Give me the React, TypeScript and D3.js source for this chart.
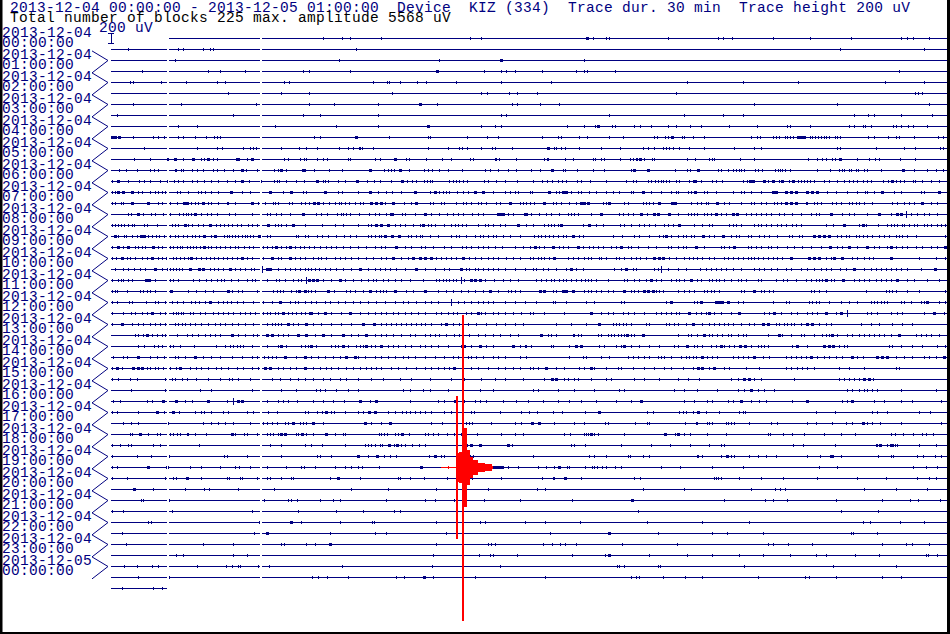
import React from "react";
import * as d3 from "d3";

// header texts
const headerLine = "2013-12-04 00:00:00 - 2013-12-05 01:00:00  Device  KIZ (334)  Trace dur. 30 min  Trace height 200 uV";
const summaryLine = "Total number of blocks 225 max. amplitude 5568 uV";
const scaleLabel = "200 uV";

// hour labels (one per two traces)
const hourDates = [
    "2013-12-04", "2013-12-04", "2013-12-04", "2013-12-04", "2013-12-04", "2013-12-04",
    "2013-12-04", "2013-12-04", "2013-12-04", "2013-12-04", "2013-12-04", "2013-12-04",
    "2013-12-04", "2013-12-04", "2013-12-04", "2013-12-04", "2013-12-04", "2013-12-04",
    "2013-12-04", "2013-12-04", "2013-12-04", "2013-12-04", "2013-12-04", "2013-12-04",
    "2013-12-05",
];
const hourTimes = [
    "00:00:00", "01:00:00", "02:00:00", "03:00:00", "04:00:00", "05:00:00",
    "06:00:00", "07:00:00", "08:00:00", "09:00:00", "10:00:00", "11:00:00",
    "12:00:00", "13:00:00", "14:00:00", "15:00:00", "16:00:00", "17:00:00",
    "18:00:00", "19:00:00", "20:00:00", "21:00:00", "22:00:00", "23:00:00",
    "00:00:00",
];

const traceMinutes = 30;
const traceHeightUV = 200;
const maxAmplitudeUV = 5568;

// data blocks inside each 30 min trace (minutes)
const blockSpans = [[0, 2.0], [2.08, 5.36], [5.43, 30.05]];

// picked up pulses per trace, minutes from trace start; b = short burst, s = larger spike
const traceTicks = [
    "7.6 8.3 8.6 9.7 12.9 13.3 17.1b 17.3 17.8 17.9 20.0 21.8 22.0 22.3 23.8 25.1 26.6 28.4 28.6 28.8 29.4",
    "0.6 2.4 2.6 3.3 3.55 3.65 8.8 26.2 29.2",
    "2.3 8.2 11.8 14.0b 17.0",
    "1.1 3.5 3.9 4.8 6.9 7.1 8.6 11.7b 13.4 14.0 14.2 14.5 15.5 16.7 17.0 17.1 18.1 28.3",
    "0.7 0.78 1.8 2.7 3.8 4.1 6.2 6.4 9.4 9.9 10.0 10.4 11.0 11.3 12.4 14.0 15.8 20.7 22.7 24.7 27.8 29.2",
    "4.2 6.1 7.1 10.1 13.3 13.5 14.3 14.6 15.3 20.3 28.9 29.0 29.15",
    "0.8 2.5 5.2 7.1 8.0 9.6 11.1b 11.7 14.4 14.6 15.4 16.1 23.1 26.1 29.4",
    "0.2 4.4 6.9 7.5 9.6 14.0 14.2 17.9 20.6 22.0 22.7 26.7 27.2 27.4 28.4 29.5",
    "2.4 3.1 5.9 8.1 9.6 11.4b 13.3 13.8 14.0 16.4 17.0 17.4 17.5b 18.0 18.1 18.8 19.0 19.4 20.0 20.3 20.8 21.2 22.2 23.2 24.3 24.4 25.1 26.5 26.7 27.0 27.1 27.3 28.1 28.2 28.4 28.65 28.8 29.3",
    "0.05b 0.15b 0.3b 0.8 1.5 1.7 1.9 2.4 2.6 3.0 3.4 3.7 3.8 3.9 7.3 7.5 8.8b 10.0 11.4 11.45 12.8 13.5 13.9 15.5 16.05 16.15 16.8 17.1 17.9 18.4 19.5 19.6 19.9 20.0 20.15b 20.5 20.6 20.9 21.3 23.0 23.2 23.3 23.8 23.9 24.0 24.2 24.3 24.4 24.5 24.7b 24.8b 24.9b 25.1 25.2 25.3 25.4 25.5 25.6 25.7 25.8 26.0 26.1 26.2 27.2 27.4 27.9 28.2 28.3 28.85 29.7 29.9",
    "1.2 3.1 3.8 4.0 4.75 5.0 5.1 5.2 6.1 6.75 7.0 7.4 8.2 8.5 8.7 8.9 8.95 9.0 9.4 11.4 12.1 12.5 12.6 12.8 13.3 13.7 13.8 14.4 15.7b 15.9 16.0 16.15 16.3 16.8 17.6 18.3 19.1 19.3 19.5 19.85 19.95 20.05 20.2 20.4 20.75 21.3 22.4 23.1 23.35 26.1 26.2 27.5 28.5 28.9 29.8 29.9",
    "0.84 1.4 2.0 2.05 2.3b 2.6 2.95b 3.25 3.35 3.45 3.5b 3.65 3.8 4.5 4.55b 4.9 5.05b 6.2 6.35 6.8 6.95 7.0 7.4 7.6 7.75 8.5 8.6 9.5 9.65 10.2b 10.6 10.7 11.3 11.9 12.2 12.9 13.0 13.8 13.85 13.95 14.55 15.55 15.65 15.7 16.3 16.6 17.3 17.4 17.6 17.7 18.3 18.65 18.75 18.85 18.9 19.0b 19.15 19.45 19.5 20.7 21.0 21.5 21.6 21.65 22.6 23.1 25.05 25.35 25.55 25.7 25.9 26.0 26.2b 26.8 27.25 27.45 27.6 28.35 28.9",
    "0.3 0.55 0.95 1.4 1.55 1.7 2.3 2.35 2.5 2.6 2.9 3.1 3.3 3.65 3.8 4.05 4.4 4.7b 4.85 5.25 5.85 6.0 6.1b 6.3 6.85 6.95b 7.3 7.85 8.3 9.3b 9.8 9.95 10.05 10.15 10.4b 10.7 11.25 11.4 11.55 11.8 12.1 12.6 13.45 13.6 13.9 14.25 14.55 15.1 15.4 15.85b 16.25 16.3 16.75 17.3 17.7 18.7 18.8b 19.3b 20.25 20.7 20.8 21.1b 21.8 21.9 22.15 22.35 22.45 22.55 22.65 22.75 23.15 23.25 23.4 23.85 23.95 24.05 24.1 24.2 24.4 25.35 25.85 26.15 26.25 26.35 26.5 26.6 26.75 26.85 27.05 27.15 27.65 28.45b 28.85 29.3 29.65 29.9",
    "0.05 0.25b 0.3 0.6 1.0 1.2 1.4 1.75 2.0 2.25 2.4 2.6 2.9 3.1 3.35 3.6 3.85 4.15 4.45 4.7b 4.95 5.4 5.85 5.95 6.05 6.3 6.65 6.95 7.4b 7.6 7.7 7.8 8.15 8.4 8.85b 9.2 9.45 9.65 10.05 10.45b 10.65 10.8 10.95 11.25 11.35 11.45 11.55 12.15 12.3 12.4 12.5 12.65 12.8 13.4 13.55 13.85 14.15 14.6 15.15 15.5 15.65 15.85 16.05 16.2 16.35 16.75 16.9 17.2 17.8 18.5 18.75 18.85 19.3 19.4 19.55 19.65 19.75 19.85 19.95 20.05 20.3 20.4 20.75 20.9 21.0b 21.2 21.6 21.75 21.95 22.7 22.85 22.95b 23.05b 23.45b 23.6 23.8b 24.0 24.1b 24.35 24.5b 24.7 24.8 24.9 25.0 25.1 25.25 25.6 25.8 26.1 26.35 26.5 26.65 26.8 27.0 27.15 27.3 27.75 27.9 28.05b 28.2 28.35 28.5 28.8 28.9 29.15 29.45 29.75",
    "0.05 0.14 0.26b 0.44b 0.74b 0.98 1.1 1.4 1.58 1.7 1.82 1.94 2.36 2.48 2.78 3.13 3.25 3.37 3.61 3.85 4.3b 4.69 5.01 5.71b 6.18 6.48b 6.9 7.02 7.68b 8.16 8.3 8.87 9.29b 9.59 9.89 10.09 10.43 10.91b 11.45 11.63b 11.8 11.92 12.04 12.16 12.44 12.64 12.82 13.08b 13.36b 13.72 14.14 14.32 14.52 14.62 15.04 15.12 15.72b 15.99 16.11 16.23b 16.35b 16.53 16.77 16.89 17.19 17.43 17.79 18.02 18.26 18.68 18.74 19.1b 19.4 19.76 20.12 20.3 20.38 20.72 20.84 20.98b 21.31 21.43 21.73 22.33 22.63 22.75 22.99 23.35 23.77b 23.89b 24.24b 24.42b 24.6b 25.02b 25.2b 25.38b 25.74 26.04 26.46 26.82 27.08 27.17 27.41 27.71b 28.13 28.37 29.09 29.21 29.75b",
    "0.05 0.14 0.36 0.44 0.74b 0.8 1.34b 1.7 1.82 2.12 2.36 2.62b 2.72b 2.87 3.01 3.13 3.31b 3.49 3.59 3.85 4.15 4.21 4.45 5.07b 5.29 5.55 5.83 5.91 6.0 6.39 6.51 6.82 6.96 7.1 7.3b 7.44b 7.62 7.82 8.04 8.19 8.28 8.4 8.54 8.76 8.93 9.05 9.35b 9.53b 9.69b 9.86 10.13b 10.53 10.79 10.97b 11.45 11.57 11.84 11.98 12.38 12.64 12.76 12.94 13.18 13.3 13.46 13.84 13.96 14.32b 14.68 14.8 14.92 15.04 15.21 15.57b 15.87 15.99 16.17 16.47 16.71 16.89b 17.01b 17.13b 17.67 17.79 17.91b 18.44 18.56 19.1 19.22 19.34 19.46 19.7b 20.15b 20.26b 20.84 21.07 21.19 21.37 21.46 21.79b 22.03 22.21 22.63 22.99 23.11 23.35 23.53 23.83 23.94 24.06 24.24b 24.42b 24.6b 24.96 25.02 25.26 25.38 25.5 25.92 26.04 26.22 26.52 26.64 26.76 26.88 27.05 27.35 28.07 28.25 28.49 28.67 28.85 29.15b 29.45 29.69",
    "0.62 0.72 0.96b 1.16 1.42 1.58 1.88 2.12 2.44 2.6 2.68 2.78 2.87 3.01b 3.23 3.46 3.59 3.82 4.23 4.45 5.07 5.61 5.73 5.94 6.09 6.42 6.9b 7.38 7.56 7.77 8.13 8.25 8.34 8.46 8.58 8.91 9.26 9.47 9.62 9.89 10.01 10.09b 10.47 10.57 10.91 11.27b 11.51 11.8 12.08 12.28 12.46 12.64 12.98 13.18 13.38 13.9b 14.0b 14.08b 14.26 14.44 14.83 14.9b 15.09 15.39 15.63 15.81 16.11 16.41 16.53 16.65 16.77 17.25 17.61b 18.26 18.38 18.56 18.74 19.04b 19.24 19.52b 19.66b 20.06b 20.36 20.72 20.84 20.96 21.07 21.31 21.43 21.55 21.73b 21.91 22.09 22.33b 22.48b 22.81 22.99 23.17 23.35 23.53 23.71 24.0 24.18 24.48 24.78 25.14 25.32 25.44 25.86b 26.28 26.52 26.7 27.17 27.59b 28.01 28.25b 28.38b 28.55s 28.73 28.97 29.21 29.39 29.69",
    "0.05 0.14 0.24 0.36 0.48 0.62 0.74 0.84 1.2 1.28 1.64 2.18 2.3 2.42 2.66b 2.78 2.92 3.13 3.31 3.55b 3.77 3.91 4.07 4.21 4.33 4.51 4.66 4.93 5.08 5.23 5.65b 5.88 6.0 6.12 6.3 6.54b 6.98 7.58 8.04 8.34 8.87 9.23 9.35 9.53b 9.69b 9.95b 10.19 10.37 10.55 10.85 11.09 11.21b 11.39 11.51 11.63 11.98 12.22 12.37 12.46 12.61 12.76 13.2 13.42 13.54 13.72 13.96 14.14 14.62b 14.92 15.15 15.57 15.69 15.81 15.93 16.05 16.17b 16.95 17.19b 17.43 17.67 18.3 18.44 18.68 18.98 19.16 19.34 19.54 19.88 20.0 20.18 20.42b 20.96 21.25 21.49 21.61 22.21 22.33 22.45 22.63 23.11 23.23 23.35 23.53 23.71 23.94 24.06 24.24 24.48 24.6 24.78 25.68 25.95 26.34b 26.88 27.0b 27.11 27.56 27.89 28.01 28.13 28.25 28.43 28.49 28.67 28.85 28.97 29.21 29.33 29.47 29.66 29.81 29.95",
    "0.14b 0.26 0.48 0.54 0.74 0.92 1.08b 1.2b 1.34 1.46 1.6 1.72 1.91 2.12 2.3 2.42 2.6 2.72 2.9 3.01 3.17 3.34b 3.59 3.73b 4.05 4.15 4.23 4.33 4.45 4.57 4.69 4.81 4.9 5.01 5.11 5.31b 5.59 5.71 6.63 6.72 6.98 7.08 7.4 7.58 7.8 8.1 8.36 8.58 8.82 9.23 9.35 9.5 9.62 9.71 9.83b 10.09b 10.35b 10.67 10.79 10.97 11.09 11.17 11.45 11.75 12.22 12.4 12.52 12.76 13.06 13.24 13.36 13.54 13.72 13.84 14.08 14.32 14.68 15.21 15.33 15.45 15.6 15.75 15.87 16.05 16.23 16.35 16.59b 16.83 16.95 18.02 18.36 18.8 18.98 19.34 19.7 19.82 19.94b 20.12 20.36 20.54 20.66 20.84 20.96 21.28b 21.49 21.67 22.0b 22.27 22.45 22.57 22.87 22.99 23.29 23.47 23.65 23.94 24.36 24.48 24.72 24.84 25.26b 25.44b 25.62b 25.8b 26.1 26.22 26.4 26.52 26.76 26.88 27.0 27.17 27.35 27.59 27.77 27.95 28.19 28.31 28.43 28.61 28.91 29.98",
    "0.05 0.26b 0.44 0.62b 0.86 0.98 1.1 1.22 1.52b 1.7 1.82 2.12 2.24 2.36 2.48 2.56 2.72 2.84 2.96 3.07 3.19 3.35b 3.49 3.61 3.77 3.91 4.09 4.27 4.45 4.57 4.78 4.95 5.11 5.47 5.59 5.77 5.94b 6.12 6.27 6.42b 6.6 6.78 6.94 7.12 7.3 7.5 7.74 7.92 8.1 8.34 8.58 8.87 9.17 9.47 9.71 9.83 10.25b 10.55 10.79 11.12 11.29 11.57 11.98 12.22 12.61 12.76 12.94 13.18 13.36 13.54 13.78 14.04 14.5 14.8 15.04 15.24b 15.39 15.57 15.87b 16.11 16.23 16.41 16.77b 16.95 17.19 17.31 17.49 17.67 17.96 18.14 18.32b 18.56 18.68 18.92 19.28 19.58 20.0 20.12 20.38 20.54 20.66 21.01b 21.31 21.91 22.03 22.21 22.39b 22.87 22.99 23.17 23.35 23.59 23.71 23.94 24.3 24.54 24.84 25.14 25.5 25.83b 26.1 26.28 26.52b 26.82 27.17b 27.41 27.59 27.89 28.03b 28.19 28.43 28.61 28.91 29.15 29.45 29.69 29.95b",
    "0.05 0.17 0.38b 0.56 0.68 0.86 1.1 1.28 1.46b 1.7 1.84 1.96 2.24 2.32 2.48 2.63 2.78 2.87b 3.07 3.25 3.4 3.55 3.71 3.85 4.03 4.15 4.33 4.51 4.69b 4.87 5.05 5.47 5.77b 6.0 6.12 6.42b 6.6 6.78 6.96 7.26 7.44 7.56 7.74 8.04 8.22 8.4 8.64 8.87 9.17 9.41 9.71 9.89 10.13b 10.43 10.67 10.85b 11.09b 11.29b 11.48b 11.69 11.86 12.04 12.22 12.4 12.64b 12.88 13.06 13.28 13.54 13.72 13.9 14.2 14.44 14.68 15.04 15.15 15.33 15.45 15.57 15.75 15.93b 16.41 16.59 16.77 17.01 17.13 17.25 17.55 17.61 17.79 18.14 18.26 18.44 18.68 18.86 19.02 19.22 19.52b 19.7b 19.85b 20.06 20.3 20.6 20.78 20.9 21.07 21.25 21.49 21.67 22.03 22.15 22.33 22.51 22.69 22.87 22.99 23.11 23.23 23.41 23.59 23.77 23.94 24.12 24.42b 25.08b 25.26b 25.44b 25.68 25.86 25.98b 26.28b 26.64 26.82 27.05 27.23 27.39 28.01b 29.03 29.65 29.95",
    "0.14 0.44 0.62 0.84 1.04 1.22 1.58b 1.82 2.0 2.12 2.24 2.33 2.44 2.56 2.84b 3.16b 3.31b 3.55 3.71 3.85 4.03 4.27b 4.45 4.63 4.81 5.02 5.14 5.43s 5.59b 5.71b 6.0 6.24 6.42 6.6 6.78 6.96 7.08 7.2 7.32 7.46 7.68 7.86 8.1 8.34 8.64 8.93b 9.23 9.47 9.65 9.83 10.01 10.25 10.55 10.97b 11.27 11.63 11.98 12.16 12.56b 12.74 12.88 13.06 13.18 13.36 13.54 13.72 13.9 14.14 14.5 14.86 15.15 15.27 15.51 15.69 15.99 16.35 16.53b 16.71 16.95 18.08 18.32 18.5b 18.74 18.86 19.52 19.64 19.76s 20.0 20.36 20.66 21.17 21.37 21.55 21.73 21.91 22.09 22.33 22.63 23.11 23.29 23.47 23.71 23.94 24.24 24.42 24.78 25.02 25.26 25.5 25.68 25.86 26.19 26.4 26.7b 27.05 27.29 27.47 27.65 27.83 28.01 28.19 28.37 28.61 29.09 29.6b",
    "0.05 0.26 0.35 0.44 0.6 0.74 1.24b 1.36b 1.58 2.12 2.24 2.42 2.96 3.17 3.43 3.59 3.82 3.95 4.07 4.31 4.57 4.87 5.05 5.17 5.59 5.94 6.03 6.24 6.54 6.72 6.84 7.0s 7.1b 7.26b 7.4b 7.62 7.92 8.22b 8.4 8.7 8.99 9.23 9.41 9.53 9.77 9.95 10.19 10.43 10.73 11.21 11.69 11.8 11.92 12.04 12.16 12.28 12.4 12.56s 12.7 12.92b 13.08b 13.24b 13.42 13.76 14.08 14.32 14.62 15.27 15.45 15.63 15.81 15.93 16.11 16.23 16.35 16.53 16.71 16.89 17.03 17.15 17.25 17.43 17.85 18.42 18.54 18.8 18.98 19.22 19.4b 19.58 19.76 20.12 20.3 20.42 20.6 20.84b 21.05 21.19 21.49 21.61 21.73 21.85 22.03 22.27 22.51 22.63 22.81 23.23 23.35 23.89 24.16 24.3 24.6 24.96 25.14 25.32 25.44 25.56 25.68b 25.86 25.98 26.31b 26.7 26.88 27.05 27.23 27.47 27.65 27.83 28.01 28.25b 28.61 28.85 29.33 29.75",
    "0.05 0.14 0.23 0.56 1.04 1.16 1.28 1.4 1.58 2.15b 2.75 3.07 3.37 3.67 4.21b 4.33 4.57 4.69 5.23 5.83 5.95 6.06 6.18 6.48 6.66 6.75b 6.96b 7.08 7.2 7.34 7.8b 8.01 8.46 8.58 8.76 9.05 9.29b 9.53 9.65 9.77 9.89 10.19b 10.61 10.85 11.27b 11.75 12.04 12.28 12.58 12.82 13.06 13.36 13.62b 13.9 14.26 14.38 14.5 14.68 15.42b 15.54b 15.87 15.99 16.23b 16.35b 16.59b 17.01 17.13 17.25 17.43 17.61 17.85 18.02 18.44b 18.68 18.8 18.92 19.16b 19.3b 19.46b 19.58 19.7 19.82 20.36 20.6 20.78 20.96 21.31 21.43 21.55 21.67 21.85 22.63 22.75 23.11b 23.35 23.47 23.65 23.77 25.14 25.26 25.44 25.68 27.11 27.83 27.95 28.07 28.19 28.61 29.03 29.98",
    "0.05 0.2 0.65 0.74 1.24 1.58 1.7 1.94 2.18 2.36 2.6 2.87 3.01 3.16 3.37 3.55b 3.85 4.03 4.15 4.31 4.54 4.75 5.11 5.47 5.77 6.06b 6.42 6.6 6.72 6.96 7.2 7.38 7.68 7.86 8.16 8.4 8.7 8.93 9.23 9.53 9.83 10.19 10.49 10.67 10.97 11.27 11.51 11.75 12.2s 12.46 12.7 12.94 13.18 13.36 13.54 13.72 14.14 14.5 14.86 15.27 15.87 15.95 16.35 17.07 17.37 18.32 18.44 19.94 20.12b 20.96 21.07 21.19b 21.73b 21.85b 21.97b 22.17b 22.51 22.69 23.77 24.24 24.36 25.08 25.2 25.32 25.44 25.8 26.22 26.52 26.82 27.29 27.41 27.53 27.65 27.77 27.89 28.37 28.49 28.73 29.09 29.21 29.33b 29.75 29.98",
    "0.05 0.44 0.72 0.86 1.1 1.28 1.46b 1.76 1.94 2.24 2.32 2.42 2.51 2.6 2.84 2.96 3.19 3.37 3.67 3.85 4.03 4.21 4.39 4.63 4.81 4.99 5.17 5.47 5.59 5.71 5.88 6.0 6.18b 6.36 6.51 6.66 6.82 6.96 7.1 7.2b 7.44 7.68b 7.92 8.28 8.58b 8.93 9.23 9.47 9.71 9.89 10.13 10.31 10.55 10.79 11.03 11.27 11.69 11.86 12.1 12.28 12.44 12.76 12.94 13.18b 13.3 13.42 13.72 13.9 14.14 14.44 14.74 15.04 15.15 15.57 16.29 17.25b 17.61 17.85 18.02 18.38 18.56 18.8 19.16 19.58 19.76 19.94 20.12 20.3 20.42 20.78b 21.01 21.19 21.37 21.49b 21.67 21.91 22.27 22.57b 23.47 23.65 23.83b 24.06 24.42 24.66 25.02 25.2 25.38 25.68b 26.04 26.22b 26.46s 27.17 27.29 27.53 28.01 28.25 28.43 29.21 29.57b 29.92",
    "0.05 0.38b 0.74 0.98 1.16 1.4 1.58 1.76 1.94 2.3 2.42 2.54 2.66 2.84 3.01 3.25 3.49 3.73 3.91 4.09 4.33 4.57 4.81 5.11 5.61 5.77 5.88 6.0 6.12 6.36b 6.54 6.72 7.02b 7.26 7.56 7.92 8.28 8.64 9.05b 9.45b 9.71 9.89 10.07 10.25 10.43 10.61 10.79 10.97 11.15 11.27 11.51 11.86 12.04b 12.28 12.52 12.82 13.12 13.48 13.84 14.14 14.5 14.8 15.99 16.53 17.07 17.55b 18.02 18.14 18.26 18.38 18.5 18.68 19.22 19.34 19.94 20.06 20.24 20.36 20.66 20.9b 21.25 21.49 21.67 21.85 22.03 22.15 22.33 22.63 22.93 23.11 23.44b 23.61b 23.89 24.0 24.18 24.3 24.42 24.54 24.78 25.02b 25.2b 25.44 25.68 25.86 26.94 27.29 27.59 28.07 28.43 28.79",
    "0.86 0.98 1.16 1.28b 1.46 1.64 1.82 1.94 2.36 2.72 2.9 3.13 3.37 3.55 3.73 3.91 4.33b 4.57 4.81 5.11 5.23 5.62b 5.77b 6.0 6.18 6.36 6.72b 7.02b 7.32 7.62b 7.92 8.34b 8.64 8.87 9.17b 9.47 9.71 9.89 10.13 10.43 10.73 10.91 11.27 11.45 11.63 11.8 12.04 12.34 12.52 12.88 13.18 13.42 13.72 13.96 14.32 14.62 15.45b 15.69 15.81 15.99 16.59 16.65 16.77 16.89 17.49 17.61 17.85 17.96 18.08 18.2 18.32 18.44 18.54b 18.68 18.8 19.1b 20.36 20.72 20.84 21.07 21.31b 21.49 21.61 21.79 21.97 22.15 22.27 22.51 22.69 22.81 23.59 24.0b 24.12 24.42 24.78 24.9 25.26 25.56 25.68 25.8 25.92b 26.1 26.46 26.64 26.88 27.05 27.23 27.41 27.59 27.77 28.01 28.31b 28.91 29.09 29.27 29.45 29.75",
    "0.98 1.2 1.56 1.7 1.82 2.12 2.24 2.48 2.99 3.79 4.09 4.27 4.39 4.51 4.63 4.75 5.05 5.61 6.0 6.12b 6.3 6.84 6.96 7.08 7.2b 7.38 7.92 8.04 8.16 8.34b 8.52 8.82 8.93 9.05 9.17b 9.35 9.47 9.69b 9.95 10.13 10.31 10.55 10.79 11.09 11.27 11.51 11.75 12.1 12.56 12.7b 12.94 13.24b 13.48 13.72 14.44b 14.68 14.86 14.92 15.09 15.81 15.87 16.47 16.71b 16.89b 17.55 17.73 18.14 18.32 18.44b 18.68 18.98 19.34 19.7 20.24 20.36 20.68b 20.96 21.07 21.25 21.55 21.73 21.91b 22.03 22.21 22.39 22.6b 22.77b 22.99 23.23 23.35 23.47 23.59 24.48 24.66b 25.02 25.62b 25.8b 25.95b 26.16 26.34 26.46 27.95 28.07 28.37 28.79 29.15 29.69 29.95",
    "0.08 0.44 0.56 0.98b 1.4 1.64 1.91 2.3 2.39 2.66 3.01b 3.31 3.61 3.91 4.33 4.69 5.05 5.23 5.5 5.65 5.77 5.94 6.24b 6.66 6.96b 7.2 7.44 7.68 7.98 8.22 8.46b 8.76b 8.87 9.11 9.47 9.71 9.95 10.19 10.49 10.67 10.91 11.27 11.63 11.98 12.28 12.46 12.64 12.82 12.94 13.12 13.36 13.72 13.9 14.14 14.68 14.92 16.47 16.95 17.07 17.61 17.91 18.56 18.74 18.92 19.16 19.34 19.64 19.76 19.88 20.12 20.48 20.66 20.78 20.9 21.01 21.25b 21.43 21.61 21.79 22.33 22.51 22.69 22.87 23.11b 23.41 23.65 24.24 24.42 24.6 24.78 24.96 25.14b 25.38 25.62 25.8 26.04 26.28 26.64b 26.82 27.0 27.53b 27.71b 27.89b 28.19 28.49 28.79 29.21 29.39 29.63 29.92b",
    "0.05 0.2b 0.38 0.8b 0.98b 1.12b 1.28 1.4 1.58 1.7 1.88 2.12 2.32 2.48b 2.84 3.07 3.25 3.49 3.79 3.97 4.21 4.51 4.75 5.05 5.29 5.55b 5.71b 6.0 6.18 6.42 6.66 6.96b 7.26 7.5 7.74 7.92 8.16 8.46 8.7 8.93 9.17 9.35 9.53 9.71 10.07 10.31 10.61 10.97 11.27 11.51 11.75 11.98 12.16 12.34b 12.64 12.94 13.18 13.54 13.9 14.14 14.44 14.68 15.04 15.15 15.33 15.63b 15.99 16.29 16.83 17.01 17.25b 17.37 17.79 18.2 18.32 18.74 19.16 19.52 19.88 20.12 20.54 20.9 21.1b 21.25b 21.49 21.67b 22.03 22.21 22.81 23.29 24.24 24.42 24.66 24.84 25.02 25.26 26.16 26.52 27.05 28.19 28.31",
    "0.05 0.26 0.68 0.92 1.94 2.18 2.3 2.56 2.72 3.07 3.49 3.91 4.23 4.33 4.57 4.99 5.77 6.06 6.42 6.72 6.96 7.26 7.62 7.86 8.22 8.46 8.87 9.35 9.77 10.37 10.79 11.45 12.22 12.7 13.3 13.78 14.14 14.8 15.57 15.84b 15.99b 16.29 16.41 16.65 16.77 17.25 17.79 17.96 18.8 19.16 19.7 20.36 20.72 21.13 22.27 22.51 22.75b 22.93b 23.11 23.35 24.54 26.16 26.34 26.52 26.7 26.88 27.05b 27.23b 27.39",
    "0.72 1.94 3.19 3.61 5.05 6.12 6.66 7.38 7.5 7.68 8.1 8.52 8.87 10.49 10.73 11.21 11.45 12.1 13.24 13.72 15.15 15.33 16.05 16.65 17.37 18.26 18.44 20.24 20.6 21.07 21.79 22.51 22.75 22.99b 23.23 23.47 23.83 26.46 26.64 26.88 27.05 27.17 27.35 27.53 28.37 29.63",
    "0.08 0.32 1.28 1.46 1.88b 2.32b 2.66 2.92 3.49b 4.15 4.39s 4.57b 4.69b 5.59 6.0 6.18 6.36 6.7 7.26 7.62 7.98 8.37 8.93b 9.29 9.53b 10.73 11.75 11.96 12.37b 12.68 13.06 13.24 13.48 14.08 14.56 14.98 15.51 16.05 16.47 16.89 17.43 18.14 18.68 19.04b 20.6 20.96 21.43 21.61 22.15 22.33 22.63b 22.99 23.29 23.53 24.48 25.02b 26.28 26.46 26.64b 27.41 27.77 28.37 28.79 29.81",
    "0.05 0.2 0.98 1.64b 1.91 2.24b 2.44 3.01 3.23 3.34 3.59 4.03 4.19 4.9 5.11 5.65 5.97 6.96 7.08 7.41 7.58 7.71b 7.89 8.01 8.4 8.87 9.05 9.27b 9.5b 9.95 10.19 10.46 10.61 10.73 10.91 11.09 11.27 11.51 11.98 12.22 12.94 13.04 13.99 14.74 15.0 15.3 15.87 16.2 17.03 17.55b 19.24 19.46 20.39 20.54 20.66 20.9 21.1b 21.37 21.83 22.55 22.69 22.78 25.32 26.0 27.33 27.51 27.89 29.03 29.41",
    "0.44 0.72 0.98 2.03 3.31 3.61 3.85 4.11 4.39 4.99 5.47 5.59 5.77 5.98 6.24 6.36 6.54b 6.78 6.9 7.02 7.26b 7.62 9.11b 9.35 9.71 10.03b 11.48 11.89 12.76 12.88 12.98 13.66 14.5 14.74 15.12b 15.39b 15.91 16.63 16.98 17.75 17.85 18.83 19.24 19.32 20.62 21.01 21.07 21.41 21.49 21.61 22.09 22.17 22.27 22.37 22.94 23.71 23.94 25.02 25.32 25.92 26.4 26.61 27.03b 27.17 27.35 27.62 28.37 29.81",
    "0.68 0.77 1.04b 1.34 1.67 1.76 2.12 2.21 2.36 2.48 2.72 2.78 3.01 3.43 4.33b 4.45 4.78 4.87 5.26 5.59 5.71 5.83 6.0 6.12b 6.24b 6.66 6.72 6.87b 7.0 7.26 7.74b 8.04 8.34 8.4 9.63 9.71 9.81 9.93 10.22 10.31 10.47b 10.69 11.29 11.39 11.57 11.75 12.08 12.34 12.56 13.16 14.02 14.5 14.8 16.27 16.48 16.98 17.06 17.13 17.25b 17.37 17.49 18.42 19.91b 20.26 20.38b 20.57 20.79 21.43 22.11 23.59 23.69 24.16 24.48 24.91 25.6 26.21 26.74 28.03 28.17 28.47 28.82 29.15 29.27 29.55",
    "0.05 0.32 0.62 0.72 1.5 1.76 3.17 5.71 6.1 6.96 7.2 7.58 8.42 9.14 9.23 9.35 9.47 9.65 9.75 9.99b 10.17 10.29b 10.43 10.58 10.81 11.05 11.27 12.8 12.94b 13.24b 14.28b 14.4 16.52 16.63 17.02 18.31 19.39 20.07 20.79 21.47 21.91 22.03 24.52 24.85 26.0 27.47 27.53 27.63b 27.87 27.99 28.05b 28.17 28.25 29.04 29.65",
    "0.05 0.95 1.42 2.08 4.05 4.15 4.87 6.09 7.4 7.5 7.92 8.87b 9.23 9.57b 9.81 10.04 10.25 11.41 11.63b 11.86 11.98 12.88b 13.0 15.15 17.16 17.34 17.77 18.56 18.63 19.1 19.32 21.04 21.1 21.22 21.91 22.13b 22.27 22.37 22.94 23.26 23.55 23.88 24.99 25.49 25.82 25.92b 26.24 27.57 28.01 28.11 28.97 29.19 29.59 29.81",
    "0.05 0.23 1.34b 1.97 2.03 2.83 3.25 3.91 4.45 4.6 4.99 5.61 6.3 6.84 6.92 7.34 8.04 8.4 8.64 8.87 9.03 9.63 11.15b 13.77b 13.87b 13.97b 14.05b 14.28 14.62 15.33 15.63 15.91 16.11b 16.39 16.45 17.03 17.28 17.37 17.45 17.63 17.77 18.1 18.32 19.75 20.43 21.58 22.69 25.45 26.1 28.83 29.29 29.69",
    "0.05 0.59 1.94 2.24 2.33 2.72b 3.25 4.15 4.25 4.63 4.71 5.25 5.62 5.71 6.1 6.45 6.54 7.88 8.16b 8.96 10.31 10.39 10.73 11.23 12.07 12.98 14.02 15.48 15.87 15.93 16.31b 16.88 18.78 18.99 21.65 21.73 21.82 21.9 22.55 23.34 24.16 25.36 26.82 27.86 28.97 29.4 29.65",
    "0.83b 1.5 2.66 3.35 3.53 4.57 5.86 8.61 9.95 11.66 13.54 15.3 15.58 19.1 20.57 22.99 23.84 24.02 24.2 27.07 28.21 29.33",
    "1.08 1.16 2.08 5.5 6.36 6.45 6.7 7.5 7.98 8.22 9.87 11.27 11.65 12.31 13.39 14.71 16.55 18.72b 22.01 23.48 23.77 24.3 26.03 27.71 28.69 29.0 29.79",
    "0.05 0.44 2.18 5.05 6.72 8.1 9.05 10.16 10.4 18.92 26.24 27.57",
    "1.34 1.44 5.32 6.48b 6.84 8.24 9.39 9.45 11.66 13.24 13.42 14.86 15.58 16.84 19.24 21.22 22.94 27.0 27.28 28.36 29.22",
    "0.38 5.14 5.59b 7.88 9.5 9.87 12.02 12.64 15.76 17.9b 19.67 21.58 22.12 23.41 26.57 26.67 27.53",
    "0.53 3.31 4.39 6.1 6.22 7.02 7.34 7.86b 11.66 13.54 13.66 13.8 15.51 15.84 16.12 16.3 16.7 18.35 20.32 23.59 23.8 24.34 25.17 27.71 28.57 28.79 29.4",
    "2.32 2.6 4.37 4.87 11.57 13.22 13.62 13.72 14.59 16.55 17.74 17.9b 19.32 20.68 21.58 22.58 23.44 24.38 25.32 25.7 26.74 27.6 29.27 29.35 29.69",
    "0.48 0.95 1.46 1.7 3.1 4.12 4.35 4.57 4.65 5.29 5.67 8.3 11.53 13.98 18.17 18.24 18.42 19.64 19.71 22.76 25.95 28.21",
    "0.98 2.09 7.22 7.44 7.77 8.53 10.25 10.51 11.23b 11.57 13.06 15.58 18.67 18.85 18.96 19.82 20.61 21.22 23.26 24.95 25.09 26.06 27.71 28.39",
    "0.38 1.5 1.82",
];

// the event (trace 19:30)
const eventTrace = 39;
const eventRedSpan = [11.84, 13.73];
const eventRedTicks = [12.1];
// [minute, half amplitude uV]
const eventEnvelope = [
    [12.40, 520], [12.49, 560], [12.61, 2700], [12.68, 1420], [12.79, 650], [12.90, 400],
    [13.01, 260], [13.19, 180], [13.44, 110], [13.69, 55], [13.73, 0],
];
const eventSpikes = [[12.44, 2620], [12.63, 5568]];

const NAVY = "#000080";
const RED = "#ff0000";
const FONT = "'Liberation Mono', 'DejaVu Sans Mono', monospace";

export default function App() {
    const width = 950;
    const height = 634;

    const x = d3.scaleLinear().domain([0, traceMinutes]).range([111, 946]);
    const row = d3.scaleLinear().domain([0, traceTicks.length - 1]).range([38.5, 588.5]);
    const amp = d3.scaleLinear().domain([0, maxAmplitudeUV]).range([0, 153]);
    const px = (t: number) => Math.round(x(t)) + 0.5;

    const tickUV = {t: 45, b: 45, s: 110} as Record<string, number>;

    const parsed = traceTicks.map(s => s.split(" ").filter(Boolean).map(tok => {
        const kind = /[bs]$/.test(tok) ? tok.slice(-1) : "t";
        return {t: parseFloat(tok), kind};
    }));

    const yEvent = row(eventTrace);
    const envelope = d3.area<number[]>()
        .x(d => x(d[0]))
        .y0(d => yEvent - amp(d[1]))
        .y1(d => yEvent + amp(d[1]))
        .curve(d3.curveStepAfter);

    const textStyle = {fontFamily: FONT, fontSize: 14.5, letterSpacing: 0.3, whiteSpace: "pre"} as React.CSSProperties;
    const scaleHalf = amp(traceHeightUV);

    return (
        <svg width={width} height={height}
             style={{position: "absolute", left: 0, top: 0, display: "block", background: "#fff"}}>
            <rect width={width} height={height} fill="#fff"/>
            <text x={10} y={11.7} fill={NAVY} style={textStyle} xmlSpace="preserve">{headerLine}</text>
            <text x={10} y={21.7} fill="#000" style={textStyle} xmlSpace="preserve">{summaryLine}</text>
            <text x={99} y={31.5} fill={NAVY} style={textStyle}>{scaleLabel}</text>

            {/* amplitude bar */}
            <path d={`M108,${row(0) - scaleHalf}H114M111,${row(0) - scaleHalf}V${row(0) + scaleHalf}M108,${row(0) + scaleHalf}H114`}
                  stroke={NAVY} strokeWidth={1} fill="none" shapeRendering="crispEdges"/>

            {/* hour labels */}
            {hourTimes.map((tm, h) => {
                const y = row(2 * h);
                return (
                    <g key={"h" + h} fill={NAVY} style={textStyle}>
                        <text x={2} y={y - 1.8}>{hourDates[h]}</text>
                        <text x={2} y={y + 8.8}>{tm}</text>
                        {h > 0 && <polyline points={`92,${y - 9.6} 108,${y} 92,${y + 12.4}`}
                                            fill="none" stroke={NAVY} strokeWidth={1}/>}
                    </g>
                );
            })}

            {/* traces */}
            <g shapeRendering="crispEdges">
                {parsed.map((ticks, i) => {
                    const y = row(i);
                    const spans = blockSpans.filter((_, k) =>
                        i === 0 ? k > 0 : i === traceTicks.length - 1 ? k === 0 : true);
                    return (
                        <g key={"t" + i}>
                            {spans.map((s, k) => (
                                <line key={k} x1={x(s[0])} x2={x(s[1])} y1={y} y2={y}
                                      stroke={NAVY} strokeWidth={1}/>
                            ))}
                            {ticks.map((tk, k) => {
                                const a = amp(tickUV[tk.kind]);
                                if (tk.kind === "b") {
                                    return <rect key={k} x={Math.round(x(tk.t)) - 1} y={y - a - 0.2}
                                                 width={3} height={2 * a + 0.4} fill={NAVY}/>;
                                }
                                return <line key={k} x1={px(tk.t)} x2={px(tk.t)} y1={y - a} y2={y + a}
                                             stroke={NAVY} strokeWidth={1}/>;
                            })}
                        </g>
                    );
                })}
            </g>

            {/* event in red */}
            <g shapeRendering="crispEdges">
                <line x1={x(eventRedSpan[0])} x2={x(eventRedSpan[1])} y1={yEvent} y2={yEvent}
                      stroke={RED} strokeWidth={1}/>
                {eventRedTicks.map((t, k) => (
                    <line key={k} x1={px(t)} x2={px(t)} y1={yEvent - amp(45)} y2={yEvent + amp(45)}
                          stroke={RED} strokeWidth={1}/>
                ))}
                <path d={envelope(eventEnvelope) || ""} fill={RED}/>
                {eventSpikes.map((d, k) => (
                    <line key={k} x1={Math.round(x(d[0]))} x2={Math.round(x(d[0]))}
                          y1={yEvent - amp(d[1])} y2={yEvent + amp(d[1])}
                          stroke={RED} strokeWidth={2}/>
                ))}
            </g>

            {/* frame */}
            <rect x={0} y={0} width={2.5} height={height} fill="#000"/>
            <rect x={947} y={0} width={3} height={height} fill="#000"/>
            <rect x={0} y={632} width={width} height={2} fill="#000"/>
        </svg>
    );
}
